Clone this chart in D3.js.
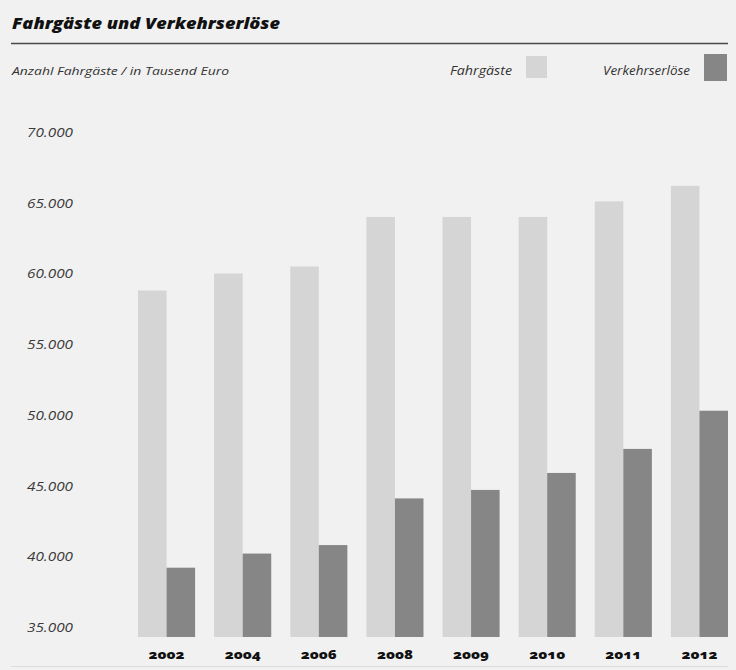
<!DOCTYPE html>
<html>
<head>
<meta charset="utf-8">
<script src="https://cdn.jsdelivr.net/npm/d3@7"></script>
<style>
  html, body { margin: 0; padding: 0; background: #f1f1f1; }
  svg { display: block; }
</style>
</head>
<body>
<script>
// Passenger numbers and fare revenue per year
const years = ["2002", "2004", "2006", "2008", "2009", "2010", "2011", "2012"];
const fahrgaeste = [59500, 60700, 61200, 64700, 64700, 64700, 65800, 66900];
const verkehrserloese = [39900, 40900, 41500, 44800, 45400, 46600, 48300, 51000];
const seriesNames = ["Fahrgäste", "Verkehrserlöse"];
const seriesColors = ["#d5d5d5", "#868686"];
const yTicks = [35000, 40000, 45000, 50000, 55000, 60000, 65000, 70000];

const W = 736, H = 670;
const svg = d3.select("body").append("svg").attr("width", W).attr("height", H);

svg.append("rect").attr("width", W).attr("height", H).attr("fill", "#f1f1f1");

const fmt = d3.formatLocale({ decimal: ",", thousands: ".", grouping: [3], currency: ["", " €"] }).format(",d");

// Title and rule
svg.append("text")
  .attr("x", 12).attr("y", 29)
  .attr("font-family", "'Open Sans', 'DejaVu Sans', sans-serif")
  .attr("font-weight", 800).attr("font-style", "italic")
  .attr("font-size", 16.5).attr("fill", "#111")
  .attr("textLength", 268).attr("lengthAdjust", "spacingAndGlyphs")
  .text("Fahrgäste und Verkehrserlöse");

svg.append("line")
  .attr("x1", 11).attr("x2", 728).attr("y1", 43.5).attr("y2", 43.5)
  .attr("stroke", "#4a4a4a").attr("stroke-width", 1.6);

// Unit line
svg.append("text")
  .attr("x", 12).attr("y", 75)
  .attr("font-family", "'Open Sans', 'DejaVu Sans', sans-serif")
  .attr("font-style", "italic").attr("font-size", 11.5).attr("fill", "#333")
  .attr("textLength", 217).attr("lengthAdjust", "spacingAndGlyphs")
  .text("Anzahl Fahrgäste / in Tausend Euro");

// Legend
const legend = [
  { name: seriesNames[0], color: seriesColors[0], tx: 450, tw: 62, sx: 526, sw: 21, sy: 56, sh: 22 },
  { name: seriesNames[1], color: seriesColors[1], tx: 603, tw: 87, sx: 704, sw: 23, sy: 54, sh: 27 }
];
legend.forEach(l => {
  svg.append("text")
    .attr("x", l.tx).attr("y", 75)
    .attr("font-family", "'Open Sans', 'DejaVu Sans', sans-serif")
    .attr("font-style", "italic").attr("font-size", 12).attr("fill", "#333")
    .attr("textLength", l.tw).attr("lengthAdjust", "spacingAndGlyphs")
    .text(l.name);
  svg.append("rect")
    .attr("x", l.sx).attr("y", l.sy).attr("width", l.sw).attr("height", l.sh)
    .attr("fill", l.color);
});

// Scales
const x = d3.scaleBand().domain(years).range([128.5, 737.5]).paddingInner(0.25).paddingOuter(0.125);
const xs = d3.scaleBand().domain(seriesNames).range([0, x.bandwidth()]);
const y = d3.scaleLinear().domain([35000, 70000]).range([637, 142]);

// Y axis labels (no axis line)
const yAxis = d3.axisLeft(y).tickValues(yTicks).tickFormat(fmt).tickSize(0).tickPadding(0);
const gy = svg.append("g").attr("transform", "translate(27,0)").call(yAxis);
gy.select(".domain").remove();
gy.selectAll("text")
  .attr("text-anchor", "start")
  .attr("dy", "-0.42em")
  .attr("font-family", "'Open Sans', 'DejaVu Sans', sans-serif")
  .attr("font-style", "italic").attr("font-size", 13).attr("fill", "#3a3a3a")
  .attr("textLength", 46).attr("lengthAdjust", "spacingAndGlyphs");

// Bars
const rows = years.map((yr, i) => ({ year: yr, values: [fahrgaeste[i], verkehrserloese[i]] }));
const groups = svg.append("g").selectAll("g").data(rows).join("g")
  .attr("transform", d => `translate(${x(d.year)},0)`);
groups.selectAll("rect")
  .data(d => d.values.map((v, k) => ({ key: seriesNames[k], value: v, color: seriesColors[k] })))
  .join("rect")
  .attr("x", d => xs(d.key))
  .attr("width", xs.bandwidth())
  .attr("y", d => y(d.value))
  .attr("height", d => y(35000) - y(d.value))
  .attr("fill", d => d.color);

// X axis labels
const xAxis = d3.axisBottom(x).tickSize(0).tickPadding(0);
const gx = svg.append("g").attr("transform", `translate(0,${y(35000)})`).call(xAxis);
gx.select(".domain").remove();
gx.selectAll("text")
  .attr("y", 13)
  .attr("font-family", "'Noto Sans', 'DejaVu Sans', sans-serif")
  .attr("font-weight", 900).attr("font-size", 12.5).attr("fill", "#111")
  .attr("textLength", 36).attr("lengthAdjust", "spacingAndGlyphs")
  .style("font-variant-numeric", "oldstyle-nums");

// Bottom rule
svg.append("line")
  .attr("x1", 11).attr("x2", 728).attr("y1", 666.5).attr("y2", 666.5)
  .attr("stroke", "#dcdcdc").attr("stroke-width", 1);
</script>
</body>
</html>
